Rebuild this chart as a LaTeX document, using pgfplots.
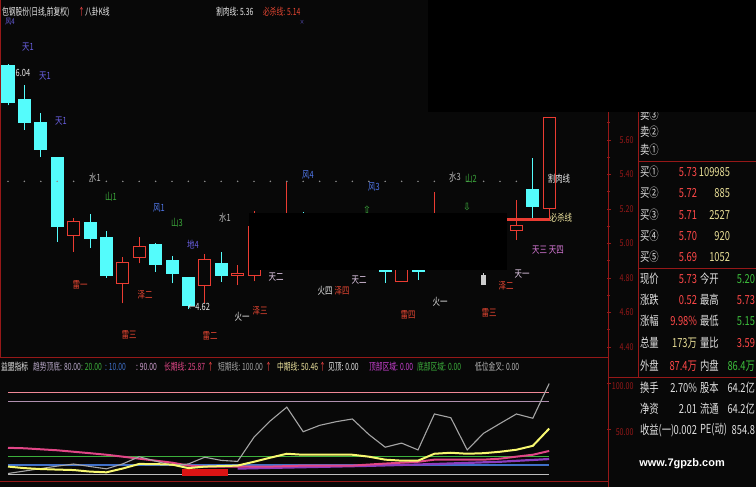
\documentclass[border=0pt]{standalone}
\usepackage{pgfplots}
\pgfplotsset{compat=1.18}
\usepackage{pgfplotstable}
\usepackage{fontspec}
\setmainfont{Liberation Sans}
\newfontfamily\cjk[FakeStretch=0.75]{Noto Sans CJK SC}
\newfontfamily\cjkn[FakeStretch=0.68]{Noto Sans CJK SC}
\newfontfamily\sym{DejaVu Sans}

% colours
\definecolor{bgc}{RGB}{8,8,8}
\definecolor{kcyan}{RGB}{84,252,252}
\definecolor{kred}{RGB}{235,60,50}
\definecolor{kflat}{RGB}{205,205,205}
\definecolor{axred}{RGB}{150,24,24}
\definecolor{tian}{RGB}{105,95,225}
\definecolor{feng}{RGB}{80,120,235}
\definecolor{shan}{RGB}{60,170,60}
\definecolor{shui}{RGB}{185,185,185}
\definecolor{lei}{RGB}{230,70,50}
\definecolor{huo}{RGB}{235,235,235}
\definecolor{tpink}{RGB}{230,205,235}
\definecolor{tmag}{RGB}{215,120,215}
\definecolor{bsx}{RGB}{240,230,160}
\definecolor{pred}{RGB}{255,72,72}
\definecolor{pyel}{RGB}{232,222,150}
\definecolor{pgrn}{RGB}{60,190,60}
\definecolor{pwht}{RGB}{225,225,225}
\definecolor{dotg}{RGB}{140,140,140}
\definecolor{lpink}{RGB}{240,136,150}
\definecolor{lviolet}{RGB}{176,144,176}
\definecolor{lgreen}{RGB}{60,176,60}
\definecolor{lblue}{RGB}{64,112,200}
\definecolor{lgray}{RGB}{190,190,190}
\definecolor{shortc}{RGB}{165,165,165}
\definecolor{midc}{RGB}{248,248,112}
\definecolor{longc}{RGB}{225,70,135}
\definecolor{purp}{RGB}{140,60,190}
\definecolor{blockred}{RGB}{220,20,20}
\definecolor{tdd}{RGB}{184,168,200}
\definecolor{c90}{RGB}{208,160,208}
\definecolor{dbq}{RGB}{200,64,208}

\newcommand\lf{\cjk\fontsize{10}{10}\selectfont}
\newcommand\tf{\cjk\fontsize{9.5}{9.5}\selectfont}
\newcommand\nf{\cjkn\fontsize{10}{10}\selectfont}
\newcommand\infont{\cjk\fontsize{12.5}{12.5}\selectfont}

% daily candles: index, open, high, low, close
\pgfplotstableread{
i o h l c
0 6.030 6.040 5.800 5.815
1 5.832 5.919 5.658 5.699
2 5.699 5.757 5.501 5.542
3 5.496 5.500 5.009 5.101
5 5.123 5.170 4.976 5.030
6 5.034 5.072 4.800 4.812
9 4.995 5.005 4.837 4.879
10 4.904 4.928 4.769 4.827
11 4.802 4.802 4.620 4.643
13 4.885 4.952 4.779 4.817
16 5.100 5.150 4.900 4.950
18 5.120 5.180 4.960 5.000
20 5.050 5.080 4.880 4.920
21 4.950 4.980 4.850 4.870
23 4.920 4.950 4.771 4.835
25 4.900 4.930 4.788 4.835
27 5.100 5.177 4.900 4.950
28 4.950 5.050 4.860 4.900
32 5.314 5.494 5.140 5.213
}\downK
\pgfplotstableread{
i o h l c
4 5.049 5.148 4.952 5.126
7 4.769 4.923 4.653 4.891
8 4.918 5.036 4.885 4.981
12 4.759 4.939 4.653 4.910
14 4.813 4.875 4.759 4.826
15 4.812 5.190 4.780 5.097
17 4.980 5.358 4.950 5.120
19 4.980 5.100 4.930 5.050
22 4.860 4.970 4.850 4.930
24 4.777 4.950 4.777 4.900
26 4.900 5.300 4.860 5.050
30 5.000 5.150 4.950 5.080
31 5.078 5.252 5.020 5.107
33 5.200 5.730 5.150 5.730
}\upK
\pgfplotstableread{
i o h l c
29 4.765 4.829 4.765 4.812
}\flatK

% indicator panel: short, middle, long term lines and a side band
\pgfplotstableread{
i s m lg
0 1.1 8.7 29.3
1 3.8 7.0 28.8
2 6.5 6.0 27.7
3 9.2 5.4 26.6
4 11.5 4.9 25.0
5 8.8 3.2 23.4
6 6.2 2.4 21.7
7 11.7 6.6 19.6
8 19.5 11.6 17.4
9 14.7 11.4 15.2
10 10.0 10.9 13.0
11 11.6 7.0 9.8
12 19.0 8.7 8.7
13 15.5 9.2 8.7
14 14.4 9.8 8.7
15 41.0 14.0 8.7
16 59.0 18.5 8.7
17 74.0 22.8 9.2
18 47.0 21.7 9.8
19 54.0 21.7 9.8
20 58.0 21.7 9.8
21 61.0 21.7 9.8
22 44.0 19.6 10.9
23 30.0 16.3 12.0
24 34.5 15.2 13.0
25 27.0 15.2 14.0
26 66.5 22.8 16.3
27 62.4 23.9 16.3
28 27.0 22.8 16.3
29 45.3 23.4 16.3
30 56.0 25.0 17.4
31 66.5 27.2 19.6
32 61.8 31.5 21.7
33 100.0 50.46 25.87
}\ind
\pgfplotstableread{
i p
14 6.5
18 8.0
22 9.5
26 11.5
30 14.0
33 17.0
}\band

% one wick and one body per table row
% #1 table, #2 wick colour, #3 body fill, #4 body edge, #5 half body width
\newcommand\candles[5]{%
  \pgfplotstablegetrowsof{#1}%
  \pgfmathtruncatemacro\lastrow{\pgfplotsretval-1}%
  \pgfplotsinvokeforeach{0,...,\lastrow}{%
    \pgfplotstablegetelem{##1}{i}\of{#1}\let\ci\pgfplotsretval
    \pgfplotstablegetelem{##1}{o}\of{#1}\let\co\pgfplotsretval
    \pgfplotstablegetelem{##1}{h}\of{#1}\let\ch\pgfplotsretval
    \pgfplotstablegetelem{##1}{l}\of{#1}\let\cl\pgfplotsretval
    \pgfplotstablegetelem{##1}{c}\of{#1}\let\cc\pgfplotsretval
    \pgfmathsetmacro\xa{\ci-#5}%
    \pgfmathsetmacro\xb{\ci+#5}%
    \edef\doplot{%
      \noexpand\addplot[draw=#2, line width=1bp, forget plot]
        coordinates {(\ci,\cl) (\ci,\ch)};
      \noexpand\addplot[fill=#3, draw=#4, line width=1bp, forget plot]
        coordinates {(\xa,\co) (\xb,\co) (\xb,\cc) (\xa,\cc)} -- cycle;}%
    \doplot
  }}

\begin{document}
\begin{tikzpicture}[x=1bp, y=1bp]
\useasboundingbox (0,0) rectangle (756,487);
\fill[bgc] (0,0) rectangle (756,487);

% ---------- price panel ----------
\begin{axis}[
  at={(0bp,130bp)}, anchor=south west,
  scale only axis, width=607bp, height=357bp,
  xmin=-0.4878, xmax=36.524, ymin=4.34203, ymax=6.41159,
  axis line style={draw=none},
  xtick=\empty,
  ytick={4.4,4.6,4.8,5.0,5.2,5.4,5.6,5.8},
  minor y tick num=1,
  ytick pos=right, yticklabel pos=right,
  tick align=outside,
  major tick length=4bp, minor tick length=3bp,
  tick style={draw=axred, line width=0.8bp},
  yticklabel style={font=\tf, text=axred, anchor=east, xshift=26bp},
  yticklabel={\pgfmathprintnumber[fixed, fixed zerofill, precision=2]{\tick}},
  /pgf/number format/assume math mode=true,
]
% stop-loss level 5.36, dotted
\addplot [only marks, mark=*, mark size=0.55bp, color=dotg] coordinates {
 (0,5.36) (1,5.36) (2,5.36) (3,5.36) (4,5.36) (5,5.36) (6,5.36) (7,5.36)
 (8,5.36) (9,5.36) (10,5.36) (11,5.36) (12,5.36) (13,5.36) (14,5.36) (15,5.36)
 (16,5.36) (17,5.36) (18,5.36) (19,5.36) (20,5.36) (21,5.36) (22,5.36) (23,5.36)
 (24,5.36) (25,5.36) (26,5.36) (27,5.36) (28,5.36) (29,5.36) (30,5.36) (31,5.36)};
\candles{\downK}{kcyan}{kcyan}{kcyan}{0.366}
\candles{\upK}{kred}{bgc}{kred}{0.366}
\candles{\flatK}{kflat}{kflat}{kflat}{0.14}
% must-sell level 5.14
\addplot [draw=kred, line width=3.5bp] coordinates {(30.43,5.14) (33.05,5.14)};
\end{axis}

% ---------- indicator panel ----------
\begin{axis}[
  at={(0bp,5bp)}, anchor=south west,
  scale only axis, width=607bp, height=124bp,
  xmin=-0.4878, xmax=36.524, ymin=-8.24, ymax=128.02,
  axis line style={draw=none},
  xtick=\empty,
  ytick={50,100},
  ytick pos=right, yticklabel pos=right,
  tick align=outside, major tick length=4bp,
  tick style={draw=axred, line width=0.8bp},
  yticklabel style={font=\tf, text=axred, anchor=east, xshift=26bp, yshift=-3bp},
  yticklabel={\pgfmathprintnumber[fixed, fixed zerofill, precision=2]{\tick}},
  /pgf/number format/assume math mode=true,
]
\addplot [draw=lpink, line width=1.6bp] coordinates {(0,90) (33,90)};
\addplot [draw=lviolet, line width=1.2bp] coordinates {(0,80) (33,80)};
\addplot [draw=lgreen, line width=1.5bp] coordinates {(0,20) (33,20)};
\addplot [draw=lblue, line width=2bp] coordinates {(0,10) (33,10)};
\addplot [draw=lgray, line width=1.2bp] coordinates {(0,0) (33,0)};
\addplot [fill=blockred, draw=none] coordinates {(10.6,-1.6) (13.4,-1.6) (13.4,5.5) (10.6,5.5)} -- cycle;
\addplot [draw=purp, line width=2.2bp] table [x=i, y=p] {\band};
\addplot [draw=longc, line width=2bp] table [x=i, y=lg] {\ind};
\addplot [draw=shortc, line width=1.1bp] table [x=i, y=s] {\ind};
\addplot [draw=midc, line width=2bp] table [x=i, y=m] {\ind};
\end{axis}

\begin{scope}[shift={(0,487)}, yscale=-1, every node/.style={inner sep=0pt, outer sep=0pt}]
% frame lines
\draw[axred, line width=1bp] (0.5,0) -- (0.5,357.5);
\draw[axred, line width=1bp] (0,357.5) -- (608,357.5);
\draw[axred, line width=1bp] (608,112) -- (608,487);
\draw[axred, line width=1bp] (0,481.5) -- (608,481.5);
\draw[axred, line width=1bp] (638,112) -- (638,377.5);
\draw[axred, line width=1bp] (638,161.5) -- (756,161.5);
\draw[axred, line width=1bp] (638,268.5) -- (756,268.5);
\draw[axred, line width=1bp] (608,377.5) -- (756,377.5);

% title rows
\node[anchor=west, text=huo, font=\nf] at (2,12) {包钢股份(日线,前复权)};
\node[anchor=west, text=pred, font=\nf] at (78,12) {↑};
\node[anchor=west, text=huo, font=\nf] at (85,12) {八卦K线};
\node[anchor=west, text=huo, font=\nf] at (216,12) {割肉线: 5.36};
\node[anchor=west, text=lei, font=\nf] at (263,12) {必杀线: 5.14};

% trigram marks on the price panel
\node[text=tian, font=\cjk\fontsize{8}{8}\selectfont] at (10,22) {风4};
\node[text=tian, font=\cjk\fontsize{6}{6}\selectfont] at (302,22) {×};
\node[text=tian, font=\lf] at (28,47) {天1};
\node[text=huo, font=\lf] at (23,73) {6.04};
\node[text=tian, font=\lf] at (45,76) {天1};
\node[text=tian, font=\lf] at (61,121) {天1};
\node[text=shui, font=\lf] at (95,178) {水1};
\node[text=shan, font=\lf] at (111,197) {山1};
\node[text=feng, font=\lf] at (159,208) {风1};
\node[text=shan, font=\lf] at (177,223) {山3};
\node[text=tian, font=\lf] at (193,245) {地4};
\node[text=shui, font=\lf] at (225,218) {水1};
\node[text=lei, font=\lf] at (80,285) {雷一};
\node[text=lei, font=\lf] at (145,295) {泽二};
\node[text=lei, font=\lf] at (129,335) {雷三};
\node[anchor=west, text=huo, font=\lf] at (188,307) {←4.62};
\node[text=huo, font=\lf] at (242,317) {火一};
\node[text=lei, font=\lf] at (260,311) {泽三};
\node[text=lei, font=\lf] at (210,336) {雷二};
\node[text=tpink, font=\lf] at (276,277) {天二};
\node[text=huo, font=\lf] at (325,291) {火四};
\node[text=lei, font=\lf] at (342,291) {泽四};
\node[text=tpink, font=\lf] at (359,280) {天二};
\node[text=lei, font=\lf] at (408,315) {雷四};
\node[text=huo, font=\lf] at (440,302) {火一};
\node[text=lei, font=\lf] at (489,313) {雷三};
\node[text=lei, font=\lf] at (506,286) {泽二};
\node[text=tpink, font=\lf] at (522,274) {天一};
\node[text=tmag, font=\lf] at (548,250) {天三 天四};
\node[text=huo, font=\lf] at (559,179) {割肉线};
\node[text=bsx, font=\lf] at (561,218) {必杀线};
\node[text=feng, font=\lf] at (308,175) {风4};
\node[text=feng, font=\lf] at (374,187) {风3};
\node[text=shui, font=\lf] at (455,177) {水3};
\node[text=shan, font=\lf] at (471,179) {山2};
\node[text=shan, font=\sym\fontsize{10}{10}\selectfont] at (367,210) {⇧};
\node[text=shan, font=\sym\fontsize{10}{10}\selectfont] at (467,207) {⇩};

% indicator title
\node[anchor=west, text=huo, font=\nf] at (1,366.5) {益盟指标};
\node[anchor=west, text=tdd, font=\nf] at (33,366.5) {趋势顶底: 80.00};
\node[anchor=west, text=lgreen, font=\nf] at (81,366.5) {: 20.00};
\node[anchor=west, text=lblue, font=\nf] at (105,366.5) {: 10.00};
\node[anchor=west, text=c90, font=\nf] at (136,366.5) {: 90.00};
\node[anchor=west, text=longc, font=\nf] at (164,366.5) {长期线: 25.87};
\node[anchor=west, text=pred, font=\nf] at (207,366.5) {↑};
\node[anchor=west, text=shortc, font=\nf] at (218,366.5) {短期线: 100.00};
\node[anchor=west, text=pred, font=\nf] at (265,366.5) {↑};
\node[anchor=west, text=bsx, font=\nf] at (277,366.5) {中期线: 50.46};
\node[anchor=west, text=pred, font=\nf] at (319,366.5) {↑};
\node[anchor=west, text=huo, font=\nf] at (328,366.5) {见顶: 0.00};
\node[anchor=west, text=dbq, font=\nf] at (369,366.5) {顶部区域: 0.00};
\node[anchor=west, text=lgreen, font=\nf] at (417,366.5) {底部区域: 0.00};
\node[anchor=west, text=shui, font=\nf] at (475,366.5) {低位金叉: 0.00};

% quote panel
\begin{scope}[every node/.append style={font=\infont}]
\node[anchor=west, text=pwht] at (640,115) {卖③};
\node[anchor=west, text=pwht] at (640,132) {卖②};
\node[anchor=west, text=pwht] at (640,150) {卖①};
\node[anchor=west, text=pwht] at (640,172) {买①};
\node[anchor=east, text=pred] at (697,172) {5.73};
\node[anchor=east, text=pyel] at (730,172) {109985};
\node[anchor=west, text=pwht] at (640,193) {买②};
\node[anchor=east, text=pred] at (697,193) {5.72};
\node[anchor=east, text=pyel] at (730,193) {885};
\node[anchor=west, text=pwht] at (640,215) {买③};
\node[anchor=east, text=pred] at (697,215) {5.71};
\node[anchor=east, text=pyel] at (730,215) {2527};
\node[anchor=west, text=pwht] at (640,236) {买④};
\node[anchor=east, text=pred] at (697,236) {5.70};
\node[anchor=east, text=pyel] at (730,236) {920};
\node[anchor=west, text=pwht] at (640,257) {买⑤};
\node[anchor=east, text=pred] at (697,257) {5.69};
\node[anchor=east, text=pyel] at (730,257) {1052};
\node[anchor=west, text=pwht] at (640,279) {现价};
\node[anchor=east, text=pred] at (697,279) {5.73};
\node[anchor=west, text=pwht] at (700,279) {今开};
\node[anchor=east, text=pgrn] at (755,279) {5.20};
\node[anchor=west, text=pwht] at (640,300) {涨跌};
\node[anchor=east, text=pred] at (697,300) {0.52};
\node[anchor=west, text=pwht] at (700,300) {最高};
\node[anchor=east, text=pred] at (755,300) {5.73};
\node[anchor=west, text=pwht] at (640,321) {涨幅};
\node[anchor=east, text=pred] at (697,321) {9.98\%};
\node[anchor=west, text=pwht] at (700,321) {最低};
\node[anchor=east, text=pgrn] at (755,321) {5.15};
\node[anchor=west, text=pwht] at (640,343) {总量};
\node[anchor=east, text=pyel] at (697,343) {173万};
\node[anchor=west, text=pwht] at (700,343) {量比};
\node[anchor=east, text=pred] at (755,343) {3.59};
\node[anchor=west, text=pwht] at (640,366) {外盘};
\node[anchor=east, text=pred] at (697,366) {87.4万};
\node[anchor=west, text=pwht] at (700,366) {内盘};
\node[anchor=east, text=pgrn] at (755,366) {86.4万};
\node[anchor=west, text=pwht] at (640,388) {换手};
\node[anchor=east, text=pwht] at (697,388) {2.70\%};
\node[anchor=west, text=pwht] at (700,388) {股本};
\node[anchor=east, text=pwht] at (755,388) {64.2亿};
\node[anchor=west, text=pwht] at (640,409) {净资};
\node[anchor=east, text=pwht] at (697,409) {2.01};
\node[anchor=west, text=pwht] at (700,409) {流通};
\node[anchor=east, text=pwht] at (755,409) {64.2亿};
\node[anchor=west, text=pwht] at (640,430) {收益(一)};
\node[anchor=east, text=pwht] at (697,430) {0.002};
\node[anchor=west, text=pwht] at (700,430) {PE(动)};
\node[anchor=east, text=pwht] at (755,430) {854.8};
\end{scope}
\node[text=white, font=\bfseries\fontsize{11}{11}\selectfont] at (682,464) {www.7gpzb.com};

% masked areas
\fill[black] (428,0) rectangle (756,112.5);
\fill[black] (248.5,213) rectangle (507,270.5);
\end{scope}
\end{tikzpicture}
\end{document}
